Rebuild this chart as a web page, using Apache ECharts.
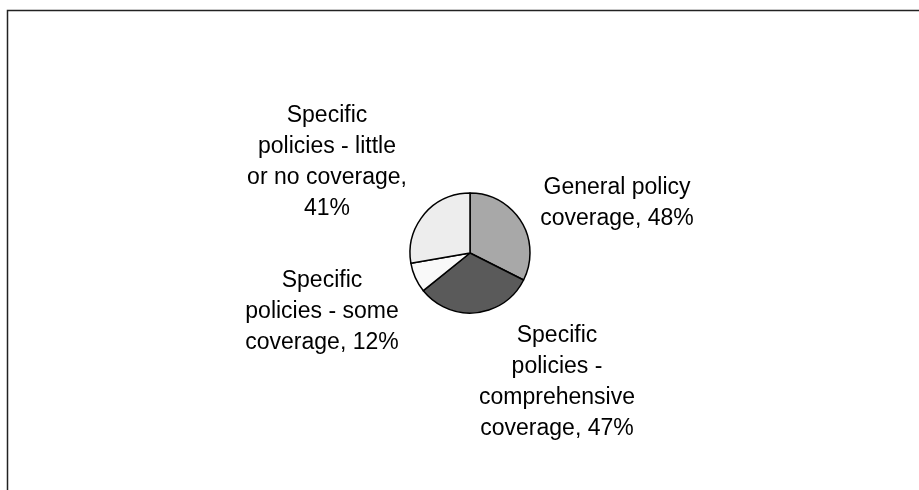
<!DOCTYPE html>
<html>
<head>
<meta charset="utf-8">
<script src="https://cdn.jsdelivr.net/npm/echarts@6/dist/echarts.min.js"></script>
<style>
html,body{margin:0;padding:0;background:#fff;}
#chart{width:919px;height:490px;}
</style>
</head>
<body>
<div id="chart"></div>
<script>
var categories = [
  'General policy coverage',
  'Specific policies - comprehensive coverage',
  'Specific policies - some coverage',
  'Specific policies - little or no coverage'
];
var values = [48, 47, 12, 41];
var labelTemplates = [
  'General policy\ncoverage, {v}%',
  'Specific\npolicies -\ncomprehensive\ncoverage, {v}%',
  'Specific\npolicies - some\ncoverage, {v}%',
  'Specific\npolicies - little\nor no coverage,\n{v}%'
];
var colors = ['#a8a8a8', '#5a5a5a', '#f9f9f9', '#ededed'];
var labelPos = [[617, 203], [557, 382], [322, 312], [327, 162]];

var chart = echarts.init(document.getElementById('chart'), null, {renderer: 'canvas'});
chart.setOption({
  animation: false,
  backgroundColor: '#fff',
  graphic: [{
    type: 'rect',
    shape: {x: 7.5, y: 10.5, width: 1000, height: 1000},
    style: {fill: 'none', stroke: '#222', lineWidth: 1.5},
    silent: true
  }],
  series: [{
    type: 'pie',
    center: [470, 253],
    radius: 60,
    startAngle: 90,
    clockwise: true,
    avoidLabelOverlap: false,
    itemStyle: {borderColor: '#000', borderWidth: 1.5},
    label: {
      show: true,
      position: 'outside',
      color: '#000',
      fontFamily: 'Liberation Sans, Arial, sans-serif',
      fontSize: 23,
      lineHeight: 31,
      align: 'center',
      verticalAlign: 'middle',
      formatter: function (p) { return labelTemplates[p.dataIndex].replace('{v}', p.value); }
    },
    labelLine: {show: false},
    labelLayout: function (p) {
      return {x: labelPos[p.dataIndex][0], y: labelPos[p.dataIndex][1], align: 'center', verticalAlign: 'middle'};
    },
    emphasis: {disabled: true},
    data: categories.map(function (c, i) {
      return {name: c, value: values[i], itemStyle: {color: colors[i]}};
    })
  }]
});
</script>
</body>
</html>
